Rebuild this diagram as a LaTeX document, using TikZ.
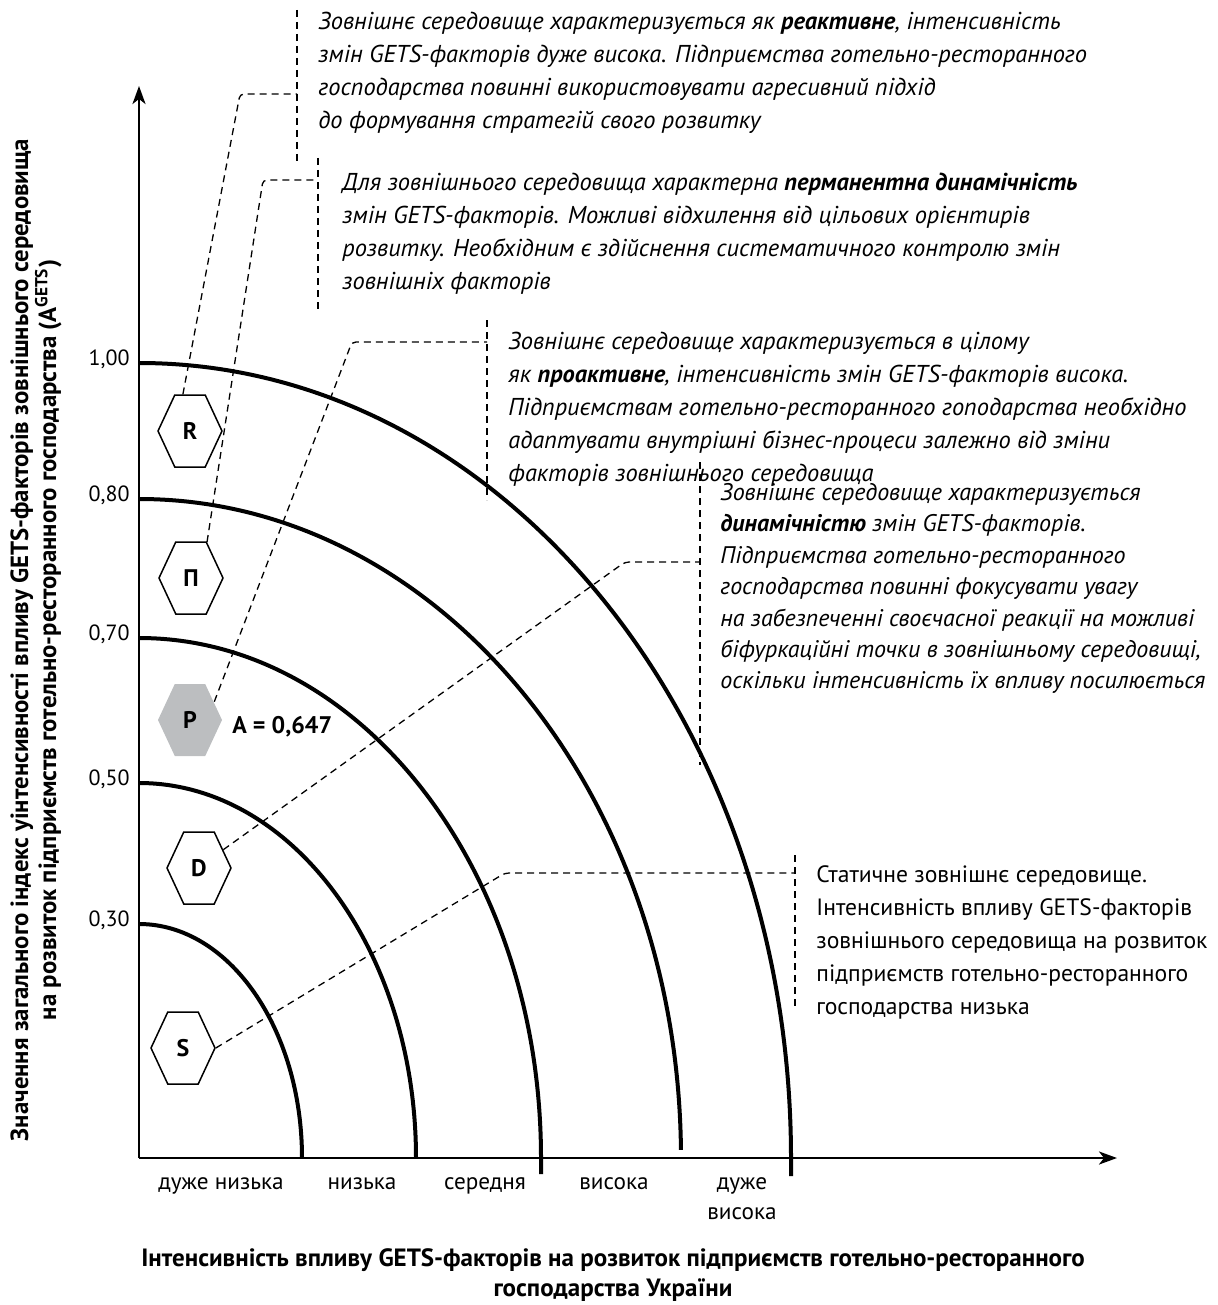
\documentclass[tikz,border=0pt]{standalone}
\usepackage{fontspec}
\setmainfont{PT Sans}
\usetikzlibrary{arrows.meta,shapes.symbols}
\definecolor{hexgray}{HTML}{BCBEC0}

\begin{document}
\begin{tikzpicture}[x=0.5pt,y=-0.5pt,>={Stealth[length=9pt,width=6.5pt,inset=2.5pt]},
    axis/.style={line width=1.3pt},
    zone/.style={line width=2pt},
    leader/.style={line width=0.65pt,dash pattern=on 3.5pt off 2.5pt,rounded corners=2pt},
    hex/.style={signal,signal to=east and west,signal pointer angle=130,draw,line width=0.75pt,
                minimum width=32pt,minimum height=36pt,inner sep=0pt,
                font=\bfseries\fontsize{12}{12}\selectfont},
    note/.style={anchor=north west,align=left,inner sep=0pt,font=\itshape\fontsize{12.2}{16.5}\selectfont},
    tick/.style={anchor=east,inner sep=0pt,font=\fontsize{11}{11}\selectfont},
    level/.style={anchor=base,align=center,inner sep=0pt,font=\fontsize{11.6}{15}\selectfont}]
  \useasboundingbox (0,0) rectangle (1217,1305);

  % axes
  \coordinate (O) at (139,1158);
  \coordinate (ytop) at (139,86);
  \coordinate (xend) at (1117,1158);
  \draw[axis,->] (O) -- (ytop);
  \draw[axis,->] (O) -- (xend);

  % zones
  \draw[zone] (139,924) arc[start angle=-90,end angle=0,x radius=163,y radius=234];
  \draw[zone] (139,783) arc[start angle=-90,end angle=0,x radius=277,y radius=375];
  \draw[zone] (139,638) arc[start angle=-90,end angle=0,x radius=402,y radius=520] -- ++(0,16);
  \draw[zone] (139,499) arc[start angle=-90,end angle=-0.7,x radius=542,y radius=659];
  \draw[zone] (139,363) arc[start angle=-90,end angle=0,x radius=652,y radius=795] -- ++(0,18);

  \foreach \v/\y in {{1,00}/363,{0,80}/499,{0,70}/638,{0,50}/783,{0,30}/924}
    \node[tick] at (130,\y-4) {\v};

  % hexagons
  \node[hex] (R) at (190,431) {R};
  \node[hex] (Pi) at (191,578) {П};
  \node[hex,fill=hexgray,draw=none] (P) at (190,720) {P};
  \node[hex] (D) at (199,868) {D};
  \node[hex] (S) at (183,1048) {S};
  \node[anchor=west,inner sep=0pt,font=\bfseries\fontsize{12}{12}\selectfont] (A) at (232,727) {A = 0,647};

  % notes
  \node[note] (tR) at (318,12) {Зовнішнє середовище характеризується як \textbf{реактивне}, інтенсивність\\
    змін GETS-факторів дуже висока. Підприємства готельно-ресторанного\\
    господарства повинні використовувати агресивний підхід\\
    до формування стратегій свого розвитку};
  \node[note] (tPi) at (342,173) {Для зовнішнього середовища характерна \textbf{перманентна динамічність}\\
    змін GETS-факторів. Можливі відхилення від цільових орієнтирів\\
    розвитку. Необхідним є здійснення систематичного контролю змін\\
    зовнішніх факторів};
  \node[note] (tP) at (508,332) {Зовнішнє середовище характеризується в цілому\\
    як \textbf{проактивне}, інтенсивність змін GETS-факторів висока.\\
    Підприємствам готельно-ресторанного гоподарства необхідно\\
    адаптувати внутрішні бізнес-процеси залежно від зміни\\
    факторів зовнішнього середовища};
  \node[note,font=\itshape\fontsize{12}{15.7}\selectfont] (tD) at (720,483) {Зовнішнє середовище характеризується\\
    \textbf{динамічністю} змін GETS-факторів.\\
    Підприємства готельно-ресторанного\\
    господарства повинні фокусувати увагу\\
    на забезпеченні своєчасної реакції на можливі\\
    біфуркаційні точки в зовнішньому середовищі,\\
    оскільки інтенсивність їх впливу посилюється};
  \node[note,font=\fontsize{11.8}{16.5}\selectfont] (tS) at (816,865) {Статичне зовнішнє середовище.\\
    Інтенсивність впливу GETS-факторів\\
    зовнішнього середовища на розвиток\\
    підприємств готельно-ресторанного\\
    господарства низька};

  % brackets
  \coordinate (bR1) at (297,10);   \coordinate (bR2) at (297,165);
  \coordinate (bPi1) at (318,158); \coordinate (bPi2) at (318,310);
  \coordinate (bP1) at (487,320);  \coordinate (bP2) at (487,500);
  \coordinate (bD1) at (700,462);  \coordinate (bD2) at (700,765);
  \coordinate (bS1) at (795,855);  \coordinate (bS2) at (795,1010);
  \draw[leader] (bR1) -- (bR2);
  \draw[leader] (bPi1) -- (bPi2);
  \draw[leader] (bP1) -- (bP2);
  \draw[leader] (bD1) -- (bD2);
  \draw[leader] (bS1) -- (bS2);

  % leaders
  \coordinate (kR) at (240,94);
  \coordinate (kPi) at (263,180);
  \coordinate (kP) at (352,342);
  \coordinate (kD) at (625,562);
  \coordinate (kS) at (505,873);
  \draw[leader] (R.101) -- (kR) -- (kR -| bR1);
  \draw[leader] (Pi.66) -- (kPi) -- (kPi -| bPi1);
  \draw[leader] (P.37) -- (kP) -- (kP -| bP1);
  \draw[leader] (D.37) -- (kD) -- (kD -| bD1);
  \draw[leader] (S.east) -- (kS) -- (kS -| bS1);

  % axis captions
  \node[level] (l1) at (221,1189) {дуже низька};
  \node[level] (l2) at (362,1189) {низька};
  \node[level] (l3) at (485,1189) {середня};
  \node[level] (l4) at (614,1189) {висока};
  \node[level] (l5) at (742,1219) {дуже\\висока};
  \node[align=center,inner sep=0pt,font=\bfseries\fontsize{12.5}{15}\selectfont] (xcap) at (613,1275)
    {Інтенсивність впливу GETS-факторів на розвиток підприємств готельно-ресторанного\\господарства України};
  \node[rotate=90,align=center,inner sep=0pt,font=\bfseries\fontsize{12.4}{14}\selectfont] (ycap) at (36,640)
    {Значення загального індекс уінтенсивності впливу GETS-факторів зовнішнього середовища\\
     на розвиток підприємств готельно-ресторанного господарства (A\textsuperscript{GETS})};
\end{tikzpicture}
\end{document}
